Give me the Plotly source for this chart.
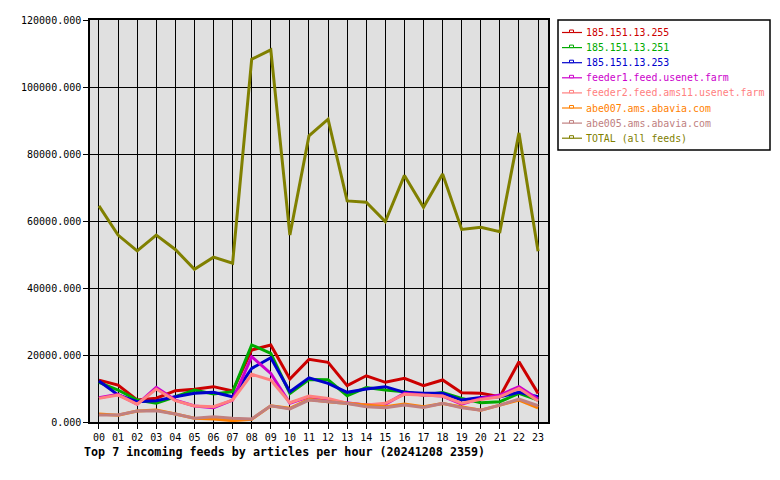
import plotly.graph_objects as go

hours = [f"{h:02d}" for h in range(24)]

s255 = [12500, 11000, 6600, 7100, 9350, 9750, 10550, 9250, 21500, 23000, 12850, 18700,
        17800, 10850, 13800, 11850, 13050, 10850, 12550, 8750, 8550, 7550, 18000, 8550]
s251 = [11850, 9550, 6550, 5600, 7550, 9550, 8350, 9050, 23000, 20500, 8550, 12700,
        12600, 7850, 10300, 9550, 9050, 8050, 8800, 7050, 5750, 6050, 8550, 6550]
s253 = [12250, 8050, 6050, 6350, 7550, 8550, 8850, 7550, 16000, 19200, 9050, 13200,
        11550, 8850, 9850, 10550, 8850, 8550, 8550, 6550, 7350, 7550, 8850, 7550]
feeder1 = [7250, 8250, 5300, 10350, 6550, 4800, 4250, 6550, 19500, 14500, 5600, 7550,
           6350, 5750, 5050, 5300, 8550, 8050, 7750, 5350, 7050, 8050, 10550, 6850]
feeder2 = [7050, 8050, 5300, 9850, 6350, 4800, 4550, 6550, 14250, 12550, 5750, 7750,
           7050, 5600, 5050, 5600, 8250, 8050, 7750, 5600, 6750, 7550, 10050, 6250]
abe007 = [2400, 2000, 3300, 3550, 2400, 1100, 900, 400, 800, 4850, 4100, 6750,
          6050, 5550, 5050, 4550, 5350, 4550, 5550, 4550, 3550, 5050, 6550, 4250]
abe005 = [2100, 2100, 3300, 3350, 2400, 1100, 1600, 1100, 900, 4850, 3900, 6550,
          6050, 5550, 4550, 4250, 5050, 4350, 5550, 4250, 3550, 5050, 6850, 4850]
total = [64500, 55800, 51100, 55800, 51500, 45600, 49200, 47400, 108300, 111100, 55800, 85400,
         90400, 66000, 65600, 59800, 73600, 64100, 74000, 57500, 58100, 56800, 86300, 51000]

names = ["185.151.13.255", "185.151.13.251", "185.151.13.253", "feeder1.feed.usenet.farm",
         "feeder2.feed.ams11.usenet.farm", "abe007.ams.abavia.com", "abe005.ams.abavia.com",
         "TOTAL (all feeds)"]
series = [s255, s251, s253, feeder1, feeder2, abe007, abe005, total]
colors = ["#cc0000", "#00aa00", "#0000cc", "#cc00cc", "#ff8080", "#ff8000", "#c08080", "#808000"]

MONO = "DejaVu Sans Mono, Liberation Mono, monospace"

fig = go.Figure()
for name, vals, col in zip(names, series, colors):
    fig.add_trace(go.Scatter(x=hours, y=vals, name=name, mode="lines",
                             line=dict(color=col, width=3), showlegend=False))

W, H = 780, 480
L, R, T, B = 90, 548, 20, 422

def px(x):
    return (x - L) / (R - L)

def py(y):
    return (B - y) / (B - T)

shapes = [dict(type="rect", xref="paper", yref="paper", x0=px(558), x1=px(770),
               y0=py(150), y1=py(20), line=dict(color="black", width=1.5), fillcolor="white")]
annotations = []
for i, (name, col) in enumerate(zip(names, colors)):
    yc = 32.5 + i * 15.1
    shapes.append(dict(type="line", xref="paper", yref="paper", x0=px(562), x1=px(582),
                       y0=py(yc), y1=py(yc), line=dict(color=col, width=1.2)))
    shapes.append(dict(type="rect", xref="paper", yref="paper", x0=px(569.5), x1=px(573.5),
                       y0=py(yc), y1=py(yc - 2.5), line=dict(color=col, width=1), fillcolor="white"))
    annotations.append(dict(text=name, xref="paper", yref="paper", x=px(584), y=py(yc),
                            xanchor="left", yanchor="middle", showarrow=False,
                            font=dict(family=MONO, size=9.9, color=col)))

annotations.append(dict(text="<b>Top 7 incoming feeds by articles per hour (20241208 2359)</b>",
                        xref="paper", yref="paper", x=px(82), y=py(452), xanchor="left",
                        yanchor="middle", showarrow=False,
                        font=dict(family=MONO, size=11.7, color="black")))

fig.update_layout(
    width=W, height=H,
    margin=dict(l=L, r=W - R, t=T, b=H - B),
    paper_bgcolor="white", plot_bgcolor="#e0e0e0",
    shapes=shapes, annotations=annotations,
    font=dict(family=MONO, size=10, color="black"),
)
fig.update_xaxes(type="category", range=[-0.47, 23.52], showgrid=True, gridcolor="black",
                 gridwidth=1, ticks="outside", ticklen=5, tickcolor="black",
                 showline=True, linecolor="black", linewidth=1.5, mirror=True,
                 tickfont=dict(family=MONO, size=10, color="black"), zeroline=False)
fig.update_yaxes(range=[0, 120000], dtick=20000, tickformat=".3f", showgrid=True,
                 gridcolor="black", gridwidth=1, ticks="outside", ticklen=5,
                 tickcolor="black", showline=True, linecolor="black", linewidth=1.5,
                 mirror=True, tickfont=dict(family=MONO, size=10, color="black"),
                 zeroline=False)

fig.write_html("out.html")
